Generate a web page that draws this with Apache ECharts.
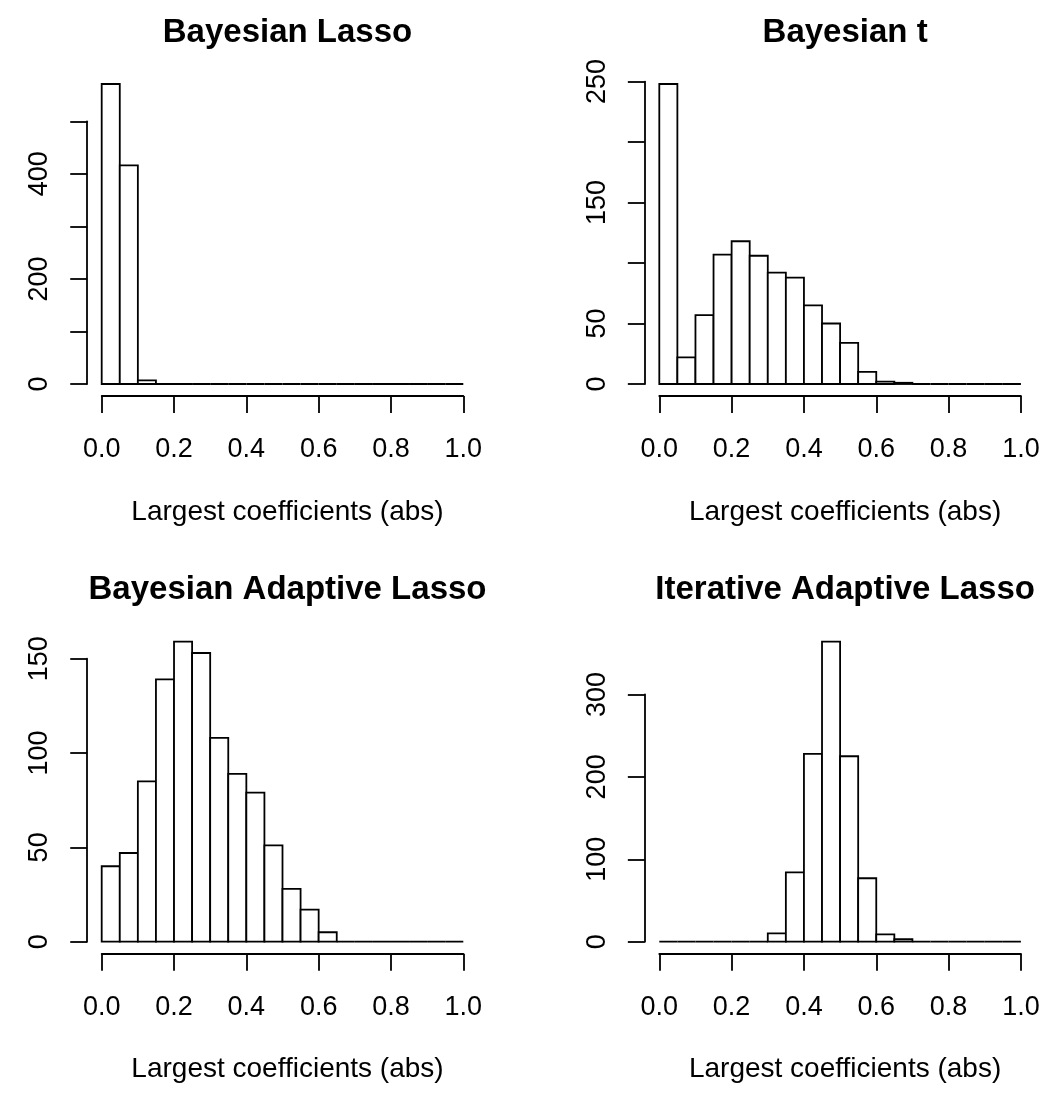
<!DOCTYPE html>
<html>
<head>
<meta charset="utf-8">
<title>Largest coefficients</title>
<script src="https://cdn.jsdelivr.net/npm/echarts@6/dist/echarts.min.js"></script>
<style>
	html,body{margin:0;padding:0;background:#fff;}
	#hist_show{width:1049px;height:1100px;}
</style>
</head>
<body>
<div id="hist_show"></div>
<script>
/** bin edges (shared by all four histograms) **/
var breaks = [0, 0.05, 0.1, 0.15, 0.2, 0.25, 0.3, 0.35, 0.4, 0.45, 0.5,
              0.55, 0.6, 0.65, 0.7, 0.75, 0.8, 0.85, 0.9, 0.95, 1.0];

/** counts per bin **/
var bayesLasso    = [571, 416, 7, 0, 0, 0, 0, 0, 0, 0, 0, 0, 0, 0, 0, 0, 0, 0, 0, 0];
var bayesT        = [248, 22, 57, 107, 118, 106, 92, 88, 65, 50, 34, 10, 2, 1, 0, 0, 0, 0, 0, 0];
var bayesAdaptive = [40, 47, 85, 139, 159, 153, 108, 89, 79, 51, 28, 17, 5, 0, 0, 0, 0, 0, 0, 0];
var iterAdaptive  = [0, 0, 0, 0, 0, 0, 10, 84, 228, 364, 225, 77, 9, 3, 0, 0, 0, 0, 0, 0];

/** titles and axis ticks **/
var panelTitles = ['Bayesian Lasso', 'Bayesian t', 'Bayesian Adaptive Lasso', 'Iterative Adaptive Lasso'];
var xLabelText = 'Largest coefficients (abs)';
var xTicks = [0, 0.2, 0.4, 0.6, 0.8, 1.0];
var yTickMax  = [500, 250, 150, 300];
var yTickStep = [100, 50, 50, 100];
var yLabels1 = [0, 200, 400];
var yLabels2 = [0, 50, 150, 250];
var yLabels3 = [0, 50, 100, 150];
var yLabels4 = [0, 100, 200, 300];

(function(){
	var chart = echarts.init(document.getElementById('hist_show'));
	var counts = [bayesLasso, bayesT, bayesAdaptive, iterAdaptive];
	var yLabels = [yLabels1, yLabels2, yLabels3, yLabels4];

	// plot regions (like par("plt") in R)
	var plotLeft = [101.7, 659.3, 101.7, 659.3];
	var plotW = 361.6;
	var plotBottom = [396, 396, 953.7, 953.7];
	var plotH = 324;
	var font = 'Liberation Sans, Arial, Helvetica, sans-serif';
	var lw = 1.8;

	var grid = [], xAxis = [], yAxis = [], series = [], title = [];

	for (var i = 0; i < 4; i++) {
		var ymax = Math.max.apply(null, counts[i]);
		var ppu = plotH / (1.08 * ymax);           // px per count
		var y0 = plotBottom[i] - 0.04 * ymax * ppu; // pixel of count 0
		var h = yTickMax[i] * ppu;
		var cx = plotLeft[i] + plotW / 2;

		grid.push({left: plotLeft[i], top: y0 - h, width: plotW, height: h, containLabel: false});

		xAxis.push({
			type: 'value', gridIndex: i, min: xTicks[0], max: xTicks[xTicks.length - 1], interval: 0.2,
			offset: 0.04 * ymax * ppu,
			splitLine: {show: false},
			axisLine: {show: true, onZero: false, lineStyle: {color: '#000', width: lw}},
			axisTick: {show: true, length: 17, lineStyle: {color: '#000', width: lw}},
			axisLabel: {
				margin: 40, color: '#000', fontSize: 27, fontFamily: font,
				formatter: function(v){ return v.toFixed(1); }
			}
		});

		yAxis.push({
			type: 'value', gridIndex: i, min: 0, max: yTickMax[i], interval: yTickStep[i],
			offset: 0.04 * plotW,
			splitLine: {show: false},
			axisLine: {show: true, onZero: false, lineStyle: {color: '#000', width: lw}},
			axisTick: {show: true, length: 17, lineStyle: {color: '#000', width: lw}},
			axisLabel: {
				rotate: 90, margin: 34, color: '#000', fontSize: 27, fontFamily: font,
				formatter: (function(list){
					return function(v){ return list.indexOf(v) >= 0 ? String(v) : ''; };
				})(yLabels[i])
			}
		});

		var data = [];
		for (var k = 0; k < counts[i].length; k++) {
			data.push([breaks[k], breaks[k + 1], counts[i][k]]);
		}
		series.push({
			type: 'custom', xAxisIndex: i, yAxisIndex: i, clip: false, silent: true,
			renderItem: function(params, api){
				var p0 = api.coord([api.value(0), 0]);
				var p1 = api.coord([api.value(1), api.value(2)]);
				return {
					type: 'rect',
					shape: {x: p0[0], y: p1[1], width: p1[0] - p0[0], height: p0[1] - p1[1]},
					style: {fill: '#fff', stroke: '#000', lineWidth: lw}
				};
			},
			encode: {x: [0, 1], y: 2},
			data: data
		});

		var topOff = i < 2 ? 0 : 557.7;
		title.push({
			text: panelTitles[i], left: cx, top: 11 + topOff, textAlign: 'center',
			textStyle: {color: '#000', fontSize: 33, fontWeight: 'bold', fontFamily: font}
		});
		title.push({
			text: xLabelText, left: cx, top: 493 + topOff, textAlign: 'center',
			textStyle: {color: '#000', fontSize: 28, fontWeight: 'normal', fontFamily: font}
		});
	}

	chart.setOption({
		backgroundColor: '#fff',
		animation: false,
		title: title,
		grid: grid,
		xAxis: xAxis,
		yAxis: yAxis,
		series: series
	});
})();
</script>
</body>
</html>
